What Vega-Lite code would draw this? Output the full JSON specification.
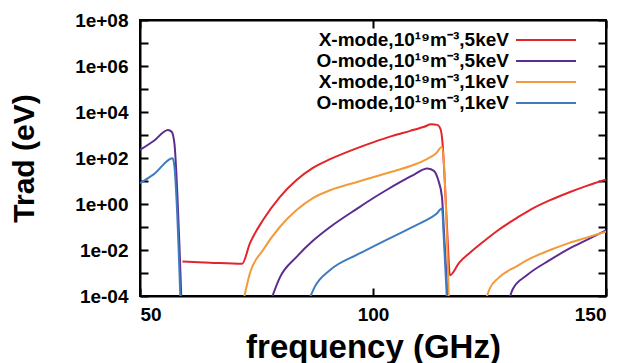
{
  "$schema": "https://vega.github.io/schema/vega-lite/v6.json",
  "autosize": {"type": "none"},
  "width": 466,
  "height": 276,
  "padding": {"left": 140, "top": 20, "right": 33, "bottom": 67},
  "background": "white",
  "view": {"stroke": "black", "strokeWidth": 2},
  "config": {
    "view": {"stroke": "black", "strokeWidth": 2},
    "axis": {
      "domain": true,
      "domainColor": "black",
      "domainWidth": 2,
      "grid": false,
      "tickColor": "black",
      "tickWidth": 2,
      "tickSize": -8,
      "labelFont": "Liberation Sans",
      "labelFontWeight": "bold",
      "labelFontSize": 19,
      "labelColor": "black",
      "titleFont": "Liberation Sans",
      "titleFontWeight": "bold",
      "titleFontSize": 33,
      "titleColor": "black"
    },
    "legend": {
      "orient": "none",
      "legendX": 395,
      "legendY": 9,
      "title": null,
      "labelFont": "Liberation Sans",
      "labelFontWeight": "bold",
      "labelFontSize": 19,
      "labelColor": "black",
      "symbolType": "M-3,0H3",
      "symbolStrokeWidth": 2,
      "symbolSize": 400,
      "rowPadding": 0,
      "labelAlign": "right",
      "labelOffset": -48,
      "labelLimit": 400
    }
  },
  "data": {
    "values": [
      {"f": 59.1, "v": 3.16e-3, "s": "X-mode,10¹⁹m⁻³,5keV", "g": 1},
      {"f": 65, "v": 2.82e-3, "s": "X-mode,10¹⁹m⁻³,5keV", "g": 1},
      {"f": 71.9, "v": 2.51e-3, "s": "X-mode,10¹⁹m⁻³,5keV", "g": 1},
      {"f": 73.6, "v": 0.02, "s": "X-mode,10¹⁹m⁻³,5keV", "g": 1},
      {"f": 76.4, "v": 0.2, "s": "X-mode,10¹⁹m⁻³,5keV", "g": 1},
      {"f": 80, "v": 2.0, "s": "X-mode,10¹⁹m⁻³,5keV", "g": 1},
      {"f": 83.6, "v": 11, "s": "X-mode,10¹⁹m⁻³,5keV", "g": 1},
      {"f": 87.1, "v": 37, "s": "X-mode,10¹⁹m⁻³,5keV", "g": 1},
      {"f": 90.8, "v": 89, "s": "X-mode,10¹⁹m⁻³,5keV", "g": 1},
      {"f": 96.6, "v": 270, "s": "X-mode,10¹⁹m⁻³,5keV", "g": 1},
      {"f": 100, "v": 479, "s": "X-mode,10¹⁹m⁻³,5keV", "g": 1},
      {"f": 104, "v": 891, "s": "X-mode,10¹⁹m⁻³,5keV", "g": 1},
      {"f": 108, "v": 1514, "s": "X-mode,10¹⁹m⁻³,5keV", "g": 1},
      {"f": 111, "v": 2291, "s": "X-mode,10¹⁹m⁻³,5keV", "g": 1},
      {"f": 112.5, "v": 2900, "s": "X-mode,10¹⁹m⁻³,5keV", "g": 1},
      {"f": 113.8, "v": 2754, "s": "X-mode,10¹⁹m⁻³,5keV", "g": 1},
      {"f": 114.5, "v": 1778, "s": "X-mode,10¹⁹m⁻³,5keV", "g": 1},
      {"f": 114.9, "v": 501, "s": "X-mode,10¹⁹m⁻³,5keV", "g": 1},
      {"f": 115.4, "v": 10, "s": "X-mode,10¹⁹m⁻³,5keV", "g": 1},
      {"f": 116, "v": 0.0316, "s": "X-mode,10¹⁹m⁻³,5keV", "g": 1},
      {"f": 116.5, "v": 7.9e-4, "s": "X-mode,10¹⁹m⁻³,5keV", "g": 1},
      {"f": 118.5, "v": 2.82e-3, "s": "X-mode,10¹⁹m⁻³,5keV", "g": 1},
      {"f": 120.8, "v": 7.6e-3, "s": "X-mode,10¹⁹m⁻³,5keV", "g": 1},
      {"f": 123.6, "v": 0.0224, "s": "X-mode,10¹⁹m⁻³,5keV", "g": 1},
      {"f": 127, "v": 0.0759, "s": "X-mode,10¹⁹m⁻³,5keV", "g": 1},
      {"f": 130.9, "v": 0.251, "s": "X-mode,10¹⁹m⁻³,5keV", "g": 1},
      {"f": 134, "v": 0.603, "s": "X-mode,10¹⁹m⁻³,5keV", "g": 1},
      {"f": 138, "v": 1.48, "s": "X-mode,10¹⁹m⁻³,5keV", "g": 1},
      {"f": 142, "v": 3.16, "s": "X-mode,10¹⁹m⁻³,5keV", "g": 1},
      {"f": 146, "v": 6.31, "s": "X-mode,10¹⁹m⁻³,5keV", "g": 1},
      {"f": 150, "v": 11.7, "s": "X-mode,10¹⁹m⁻³,5keV", "g": 1},

      {"f": 50, "v": 224, "s": "O-mode,10¹⁹m⁻³,5keV", "g": 1},
      {"f": 53, "v": 560, "s": "O-mode,10¹⁹m⁻³,5keV", "g": 1},
      {"f": 56, "v": 1660, "s": "O-mode,10¹⁹m⁻³,5keV", "g": 1},
      {"f": 56.8, "v": 1380, "s": "O-mode,10¹⁹m⁻³,5keV", "g": 1},
      {"f": 57.4, "v": 400, "s": "O-mode,10¹⁹m⁻³,5keV", "g": 1},
      {"f": 58, "v": 3.16, "s": "O-mode,10¹⁹m⁻³,5keV", "g": 1},
      {"f": 58.5, "v": 0.01, "s": "O-mode,10¹⁹m⁻³,5keV", "g": 1},
      {"f": 58.9, "v": 5e-5, "s": "O-mode,10¹⁹m⁻³,5keV", "g": 1},
      {"f": 77.9, "v": 5e-5, "s": "O-mode,10¹⁹m⁻³,5keV", "g": 2},
      {"f": 80, "v": 6.3e-4, "s": "O-mode,10¹⁹m⁻³,5keV", "g": 2},
      {"f": 83.6, "v": 5e-3, "s": "O-mode,10¹⁹m⁻³,5keV", "g": 2},
      {"f": 87.1, "v": 0.0251, "s": "O-mode,10¹⁹m⁻³,5keV", "g": 2},
      {"f": 90.8, "v": 0.1, "s": "O-mode,10¹⁹m⁻³,5keV", "g": 2},
      {"f": 96.6, "v": 0.631, "s": "O-mode,10¹⁹m⁻³,5keV", "g": 2},
      {"f": 100, "v": 1.78, "s": "O-mode,10¹⁹m⁻³,5keV", "g": 2},
      {"f": 103, "v": 4.17, "s": "O-mode,10¹⁹m⁻³,5keV", "g": 2},
      {"f": 106, "v": 9.33, "s": "O-mode,10¹⁹m⁻³,5keV", "g": 2},
      {"f": 109, "v": 20, "s": "O-mode,10¹⁹m⁻³,5keV", "g": 2},
      {"f": 111.6, "v": 35, "s": "O-mode,10¹⁹m⁻³,5keV", "g": 2},
      {"f": 113, "v": 28.2, "s": "O-mode,10¹⁹m⁻³,5keV", "g": 2},
      {"f": 114, "v": 11, "s": "O-mode,10¹⁹m⁻³,5keV", "g": 2},
      {"f": 114.8, "v": 2, "s": "O-mode,10¹⁹m⁻³,5keV", "g": 2},
      {"f": 115.3, "v": 0.0316, "s": "O-mode,10¹⁹m⁻³,5keV", "g": 2},
      {"f": 116.1, "v": 5e-5, "s": "O-mode,10¹⁹m⁻³,5keV", "g": 2},
      {"f": 129, "v": 5e-5, "s": "O-mode,10¹⁹m⁻³,5keV", "g": 3},
      {"f": 130, "v": 2e-4, "s": "O-mode,10¹⁹m⁻³,5keV", "g": 3},
      {"f": 133, "v": 7.9e-4, "s": "O-mode,10¹⁹m⁻³,5keV", "g": 3},
      {"f": 138, "v": 3.7e-3, "s": "O-mode,10¹⁹m⁻³,5keV", "g": 3},
      {"f": 142, "v": 0.0112, "s": "O-mode,10¹⁹m⁻³,5keV", "g": 3},
      {"f": 146, "v": 0.0282, "s": "O-mode,10¹⁹m⁻³,5keV", "g": 3},
      {"f": 150, "v": 0.0708, "s": "O-mode,10¹⁹m⁻³,5keV", "g": 3},

      {"f": 72.1, "v": 5e-5, "s": "X-mode,10¹⁹m⁻³,1keV", "g": 1},
      {"f": 73.6, "v": 1e-3, "s": "X-mode,10¹⁹m⁻³,1keV", "g": 1},
      {"f": 76.4, "v": 0.01, "s": "X-mode,10¹⁹m⁻³,1keV", "g": 1},
      {"f": 80, "v": 0.1, "s": "X-mode,10¹⁹m⁻³,1keV", "g": 1},
      {"f": 83.6, "v": 0.55, "s": "X-mode,10¹⁹m⁻³,1keV", "g": 1},
      {"f": 87.1, "v": 1.82, "s": "X-mode,10¹⁹m⁻³,1keV", "g": 1},
      {"f": 90.8, "v": 3.98, "s": "X-mode,10¹⁹m⁻³,1keV", "g": 1},
      {"f": 96.6, "v": 9.1, "s": "X-mode,10¹⁹m⁻³,1keV", "g": 1},
      {"f": 100, "v": 14.5, "s": "X-mode,10¹⁹m⁻³,1keV", "g": 1},
      {"f": 104, "v": 25.1, "s": "X-mode,10¹⁹m⁻³,1keV", "g": 1},
      {"f": 108, "v": 44.7, "s": "X-mode,10¹⁹m⁻³,1keV", "g": 1},
      {"f": 111, "v": 79.4, "s": "X-mode,10¹⁹m⁻³,1keV", "g": 1},
      {"f": 113.5, "v": 158, "s": "X-mode,10¹⁹m⁻³,1keV", "g": 1},
      {"f": 114.8, "v": 302, "s": "X-mode,10¹⁹m⁻³,1keV", "g": 1},
      {"f": 115.3, "v": 31.6, "s": "X-mode,10¹⁹m⁻³,1keV", "g": 1},
      {"f": 115.8, "v": 0.1, "s": "X-mode,10¹⁹m⁻³,1keV", "g": 1},
      {"f": 116.3, "v": 5e-5, "s": "X-mode,10¹⁹m⁻³,1keV", "g": 1},
      {"f": 124, "v": 5e-5, "s": "X-mode,10¹⁹m⁻³,1keV", "g": 2},
      {"f": 125, "v": 2e-4, "s": "X-mode,10¹⁹m⁻³,1keV", "g": 2},
      {"f": 127, "v": 6.3e-4, "s": "X-mode,10¹⁹m⁻³,1keV", "g": 2},
      {"f": 130.9, "v": 2e-3, "s": "X-mode,10¹⁹m⁻³,1keV", "g": 2},
      {"f": 134, "v": 4.5e-3, "s": "X-mode,10¹⁹m⁻³,1keV", "g": 2},
      {"f": 138, "v": 0.01, "s": "X-mode,10¹⁹m⁻³,1keV", "g": 2},
      {"f": 142, "v": 0.02, "s": "X-mode,10¹⁹m⁻³,1keV", "g": 2},
      {"f": 146, "v": 0.0355, "s": "X-mode,10¹⁹m⁻³,1keV", "g": 2},
      {"f": 150, "v": 0.063, "s": "X-mode,10¹⁹m⁻³,1keV", "g": 2},

      {"f": 50, "v": 8.1, "s": "O-mode,10¹⁹m⁻³,1keV", "g": 1},
      {"f": 53, "v": 20, "s": "O-mode,10¹⁹m⁻³,1keV", "g": 1},
      {"f": 57, "v": 98, "s": "O-mode,10¹⁹m⁻³,1keV", "g": 1},
      {"f": 57.4, "v": 39.8, "s": "O-mode,10¹⁹m⁻³,1keV", "g": 1},
      {"f": 58, "v": 0.316, "s": "O-mode,10¹⁹m⁻³,1keV", "g": 1},
      {"f": 58.3, "v": 0.01, "s": "O-mode,10¹⁹m⁻³,1keV", "g": 1},
      {"f": 58.7, "v": 5e-5, "s": "O-mode,10¹⁹m⁻³,1keV", "g": 1},
      {"f": 86, "v": 5e-5, "s": "O-mode,10¹⁹m⁻³,1keV", "g": 2},
      {"f": 87.5, "v": 2.5e-4, "s": "O-mode,10¹⁹m⁻³,1keV", "g": 2},
      {"f": 90.8, "v": 1.35e-3, "s": "O-mode,10¹⁹m⁻³,1keV", "g": 2},
      {"f": 96.6, "v": 6.3e-3, "s": "O-mode,10¹⁹m⁻³,1keV", "g": 2},
      {"f": 100, "v": 0.0141, "s": "O-mode,10¹⁹m⁻³,1keV", "g": 2},
      {"f": 104, "v": 0.0355, "s": "O-mode,10¹⁹m⁻³,1keV", "g": 2},
      {"f": 108, "v": 0.0891, "s": "O-mode,10¹⁹m⁻³,1keV", "g": 2},
      {"f": 111, "v": 0.178, "s": "O-mode,10¹⁹m⁻³,1keV", "g": 2},
      {"f": 113.5, "v": 0.355, "s": "O-mode,10¹⁹m⁻³,1keV", "g": 2},
      {"f": 114.8, "v": 0.631, "s": "O-mode,10¹⁹m⁻³,1keV", "g": 2},
      {"f": 115.2, "v": 0.0316, "s": "O-mode,10¹⁹m⁻³,1keV", "g": 2},
      {"f": 115.9, "v": 5e-5, "s": "O-mode,10¹⁹m⁻³,1keV", "g": 2}
    ]
  },
  "resolve": {"axis": {"x": "independent", "y": "independent"}},
  "layer": [
    {
      "mark": {"type": "line", "clip": true, "strokeWidth": 2, "interpolate": "monotone"},
      "encoding": {
        "x": {
          "field": "f", "type": "quantitative",
          "scale": {"domain": [50, 150], "nice": false},
          "axis": {"orient": "bottom", "values": [50, 100, 150], "title": "frequency (GHz)", "labelPadding": 17, "titlePadding": 7}
        },
        "y": {
          "field": "v", "type": "quantitative",
          "scale": {"type": "log", "domain": [1e-4, 1e8], "nice": false},
          "axis": {
            "orient": "left",
            "values": [1e-4, 1e-3, 1e-2, 1e-1, 1, 10, 100, 1e3, 1e4, 1e5, 1e6, 1e7, 1e8],
            "labelExpr": "(round(log(datum.value)/LN10) % 2 != 0) ? '' : ('1e' + (round(log(datum.value)/LN10) < 0 ? '-' : '+') + (abs(round(log(datum.value)/LN10)) < 10 ? '0' : '') + abs(round(log(datum.value)/LN10)))",
            "title": "Trad (eV)",
            "titleFontSize": 30,
            "labelPadding": 20,
            "titlePadding": 35
          }
        },
        "color": {
          "field": "s", "type": "nominal",
          "scale": {
            "domain": ["X-mode,10¹⁹m⁻³,5keV", "O-mode,10¹⁹m⁻³,5keV", "X-mode,10¹⁹m⁻³,1keV", "O-mode,10¹⁹m⁻³,1keV"],
            "range": ["#e3242b", "#5a2d91", "#f39a3b", "#3d7cc0"]
          },
          "sort": null,
          "legend": {}
        },
        "detail": {"field": "g", "type": "nominal"},
        "order": {"field": "f", "type": "quantitative"}
      }
    },
    {
      "mark": {"type": "line", "clip": true, "strokeOpacity": 0},
      "encoding": {
        "x": {
          "field": "f", "type": "quantitative",
          "axis": {"orient": "top", "values": [50, 100, 150], "labels": false, "title": null}
        },
        "y": {
          "field": "v", "type": "quantitative",
          "axis": {
            "orient": "right",
            "values": [1e-4, 1e-3, 1e-2, 1e-1, 1, 10, 100, 1e3, 1e4, 1e5, 1e6, 1e7, 1e8],
            "labels": false, "title": null
          }
        },
        "detail": {"field": "s", "type": "nominal"}
      }
    }
  ]
}
